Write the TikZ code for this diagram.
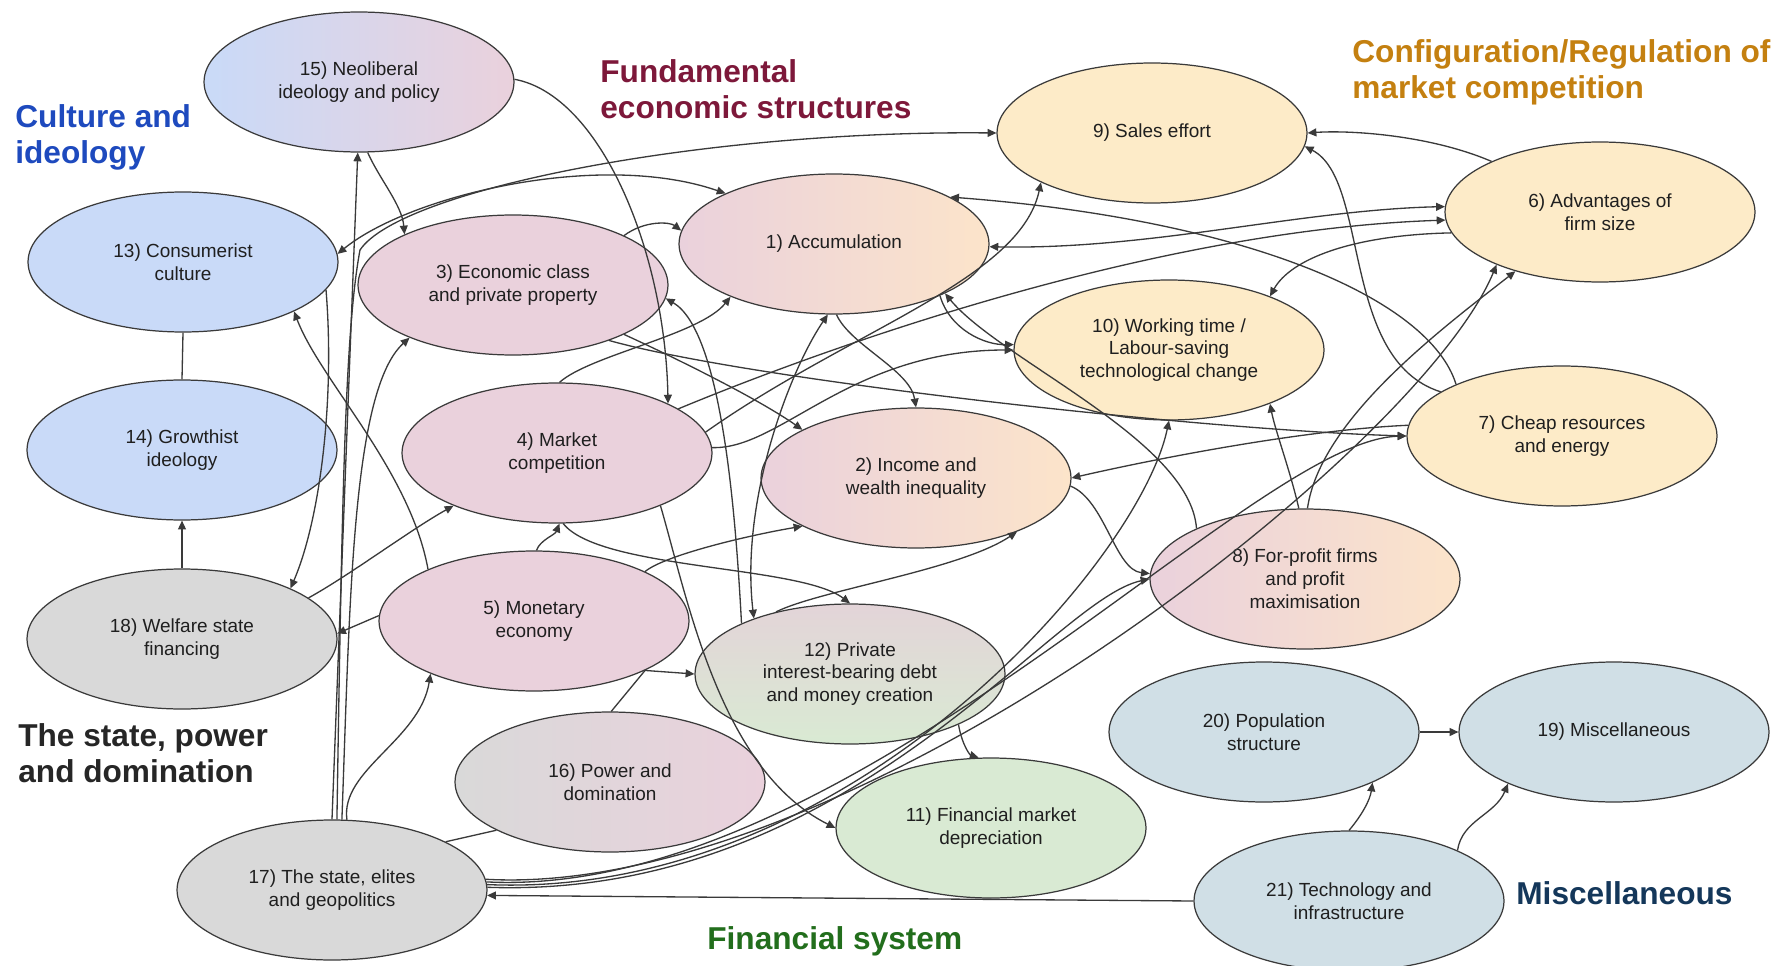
\documentclass[tikz,border=0pt]{standalone}
\usepackage{fontspec}
\setmainfont{Liberation Sans}
\usetikzlibrary{shapes.geometric,arrows.meta}
\definecolor{cblue}{HTML}{C9DAF8}
\definecolor{cpink}{HTML}{EAD1DC}
\definecolor{cyel}{HTML}{FDEBC8}
\definecolor{cpeach}{HTML}{FCE4CA}
\definecolor{cgreen}{HTML}{D9EAD3}
\definecolor{cgrey}{HTML}{D9D9D9}
\definecolor{cmisc}{HTML}{D0DFE6}
\definecolor{cpg}{HTML}{E3D4D8}
\definecolor{lc}{HTML}{3A3A3A}
\definecolor{tblue}{RGB}{30,74,190}
\definecolor{tmaroon}{RGB}{125,24,58}
\definecolor{tgold}{RGB}{196,128,16}
\definecolor{tdark}{RGB}{38,38,38}
\definecolor{tgreen}{RGB}{34,110,28}
\definecolor{tnavy}{RGB}{20,55,90}
\tikzset{
  ell/.style={ellipse, draw=lc, line width=0.7pt, minimum width=6.2cm, minimum height=2.8cm,
    inner sep=0pt, align=center, font=\fontsize{10.8}{13}\selectfont, text=black!88},
  arr/.style={draw=lc, line width=0.75pt, -{Triangle[length=5pt,width=4.5pt]}},
  darr/.style={draw=lc, line width=0.75pt, {Triangle[length=5pt,width=4.5pt]}-{Triangle[length=5pt,width=4.5pt]}},
  pline/.style={draw=lc, line width=0.75pt},
  ttl/.style={font=\fontsize{18}{20.5}\selectfont\bfseries, align=left, inner sep=0pt}
}
\begin{document}
\begin{tikzpicture}[x=0.02cm, y=-0.02cm]
\useasboundingbox (0,0) rectangle (1775,966);
\clip (0,0) rectangle (1775,966);
\fill[white] (0,0) rectangle (1775,966);

% group titles
\node[ttl, text=tblue, anchor=north west] (tculture) at (15,104) {Culture and\\ideology};
\node[ttl, text=tmaroon, anchor=north west] (tfund) at (600,59) {Fundamental\\economic structures};
\node[ttl, text=tgold, anchor=north west] (tconf) at (1352,39) {Configuration/Regulation of\\market competition};
\node[ttl, text=tdark, anchor=north west] (tstate) at (18,723) {The state, power\\and domination};
\node[ttl, text=tgreen, anchor=base west] (tfin) at (707,949) {Financial system};
\node[ttl, text=tnavy, anchor=base west] (tmisc) at (1516,904) {Miscellaneous};

% ellipses
\node[ell, left color=cblue, right color=cpink] (n15) at (359,82) {15) Neoliberal\\ideology and policy};
\node[ell, fill=cblue] (n13) at (183,262) {13) Consumerist\\culture};
\node[ell, fill=cblue] (n14) at (182,450) {14) Growthist\\ideology};
\node[ell, fill=cgrey] (n18) at (182,639) {18) Welfare state\\financing};
\node[ell, fill=cgrey] (n17) at (332,890) {17) The state, elites\\and geopolitics};
\node[ell, fill=cpink] (n3) at (513,285) {3) Economic class\\and private property};
\node[ell, left color=cpink, right color=cpeach] (n1) at (834,244) {1) Accumulation};
\node[ell, fill=cpink] (n4) at (557,453) {4) Market\\competition};
\node[ell, fill=cpink] (n5) at (534,621) {5) Monetary\\economy};
\node[ell, left color=cpink, right color=cpeach] (n2) at (916,478) {2) Income and\\wealth inequality};
\node[ell, top color=cpg, bottom color=cgreen] (n12) at (850,674) {12) Private\\interest-bearing debt\\and money creation};
\node[ell, left color=cgrey, right color=cpink] (n16) at (610,782) {16) Power and\\domination};
\node[ell, fill=cgreen] (n11) at (991,828) {11) Financial market\\depreciation};
\node[ell, fill=cyel] (n9) at (1152,133) {9) Sales effort};
\node[ell, fill=cyel] (n10) at (1169,350) {10) Working time /\\Labour-saving\\technological change};
\node[ell, fill=cyel] (n6) at (1600,212) {6) Advantages of\\firm size};
\node[ell, fill=cyel] (n7) at (1562,436) {7) Cheap resources\\and energy};
\node[ell, left color=cpink, right color=cpeach] (n8) at (1305,579) {8) For-profit firms\\and profit\\maximisation};
\node[ell, fill=cmisc] (n20) at (1264,732) {20) Population\\structure};
\node[ell, fill=cmisc] (n19) at (1614,732) {19) Miscellaneous};
\node[ell, fill=cmisc] (n21) at (1349,901) {21) Technology and\\infrastructure};

% left cluster
\draw[pline] (n13.south) -- (n14.north);
\draw[arr] (n18.north) -- (n14.south);
\draw[arr] (n17.90) -- (n15.-91);
\draw[arr] (n15.-83) .. controls (380,180) and (402,205) .. (n3.155);
\draw[arr] (n15.1) .. controls (600,95) and (665,250) .. (n4.24);
\draw[arr] (n5.154) .. controls (410,470) and (320,380) .. (n13.-24);
\draw[arr] (n13.-11) .. controls (335,400) and (320,520) .. (n18.25);
\draw[arr] (n18.18) .. controls (350,575) and (410,530) .. (n4.207);
\draw[arr] (n5.178) -- (n18.2);
\draw[arr] (n17.78) .. controls (340,770) and (420,740) .. (n5.207);
\draw[arr] (n17.82) .. controls (350,600) and (352,390) .. (n3.207);
\draw[arr] (n17.86) .. controls (342,500) and (345,330) .. (360,250) .. controls (400,190) and (700,130) .. (n9.180);
\draw[darr] (n13.3) .. controls (410,195) and (600,150) .. (n1.155);
\draw[pline] (n16.203) -- (n17.23);
\draw[pline] (n16.89) -- (n5.-24);
\draw[arr] (n5.-24) -- (n12.180);
\draw[arr] (n4.-27) .. controls (688,600) and (720,770) .. (n11.180);
\draw[arr] (n12.-25) .. controls (962,745) and (970,755) .. (n11.100);

% bundle from 17
\draw[arr] (n17.1) .. controls (850,900) and (1050,600) .. (n8.180);
\draw[arr] (n17.2) .. controls (850,900) and (1140,560) .. (n10.-90);
\draw[arr] (n17.3) .. controls (850,900) and (1250,440) .. (n7.180);
\draw[arr] (n17.4) .. controls (850,900) and (1420,450) .. (n6.207);
\draw[arr] (n21.180) -- (n17.-2);

% miscellaneous
\draw[arr] (n20.0) -- (n19.180);
\draw[arr] (n21.90) .. controls (1362,815) and (1370,800) .. (n20.-25);
\draw[arr] (n21.25) .. controls (1462,820) and (1495,815) .. (n19.206);

% middle and right
\draw[arr] (n3.24) .. controls (645,220) and (670,222) .. (n1.175);
\draw[arr] (n4.88) .. controls (590,355) and (700,335) .. (n1.207);
\draw[arr] (n4.2) .. controls (780,450) and (850,350) .. (n10.180);
\draw[arr] (n4.8) .. controls (850,330) and (1020,280) .. (n9.204);
\draw[arr] (n4.20) .. controls (820,350) and (1150,230) .. (n6.183);
\draw[darr] (n1.-1) .. controls (1150,250) and (1300,210) .. (n6.178);
\draw[arr] (n7.154) .. controls (1430,300) and (1250,220) .. (n1.22);
\draw[arr] (n8.155) .. controls (1190,440) and (1000,360) .. (n1.-24);
\draw[arr] (n1.-26) .. controls (950,330) and (985,345) .. (n10.178);
\draw[arr] (n1.-88) .. controls (850,345) and (910,370) .. (n2.90);
\draw[darr] (n1.-95) .. controls (790,370) and (740,500) .. (n12.150);
\draw[arr] (n12.155) .. controls (735,500) and (720,330) .. (n3.-5);
\draw[arr] (n3.-24) .. controls (680,360) and (760,400) .. (n2.157);
\draw[arr] (n3.-30) .. controls (750,380) and (1200,430) .. (n7.180);
\draw[arr] (n7.176) .. controls (1300,430) and (1150,460) .. (n2.0);
\draw[arr] (n2.-3) .. controls (1105,500) and (1115,570) .. (n8.178);
\draw[arr] (n5.24) .. controls (665,555) and (750,535) .. (n2.203);
\draw[arr] (n5.88) .. controls (540,540) and (555,535) .. (n4.-88);
\draw[arr] (n4.-85) .. controls (600,570) and (800,565) .. (n12.90);
\draw[arr] (n6.155) .. controls (1430,135) and (1350,130) .. (n9.0);
\draw[arr] (n6.188) .. controls (1350,235) and (1290,260) .. (n10.28);
\draw[arr] (n7.160) .. controls (1340,360) and (1370,180) .. (n9.-5);
\draw[arr] (n8.95) .. controls (1290,470) and (1275,430) .. (n10.-28);
\draw[arr] (n8.88) .. controls (1320,420) and (1440,330) .. (n6.215);
\draw[arr] (n12.140) .. controls (820,590) and (960,570) .. (n2.-28);
\end{tikzpicture}
\end{document}
